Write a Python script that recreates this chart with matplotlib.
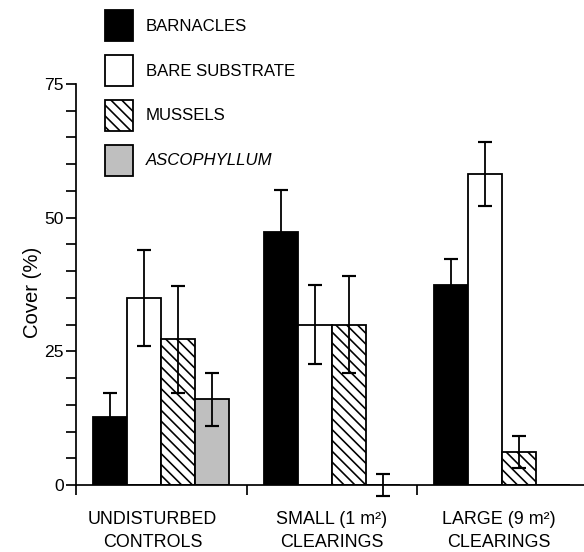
import numpy as np
import matplotlib
matplotlib.use("Agg")
import matplotlib.pyplot as plt
from matplotlib.patches import Patch
from matplotlib.ticker import MultipleLocator, FixedLocator

# ---- data ----
groups = ["UNDISTURBED\nCONTROLS", "SMALL (1 m\u00b2)\nCLEARINGS", "LARGE (9 m\u00b2)\nCLEARINGS"]
series = ["BARNACLES", "BARE SUBSTRATE", "MUSSELS", "ASCOPHYLLUM"]
barnacles = [12.7, 47.3, 37.4]
barnacles_err = [4.5, 7.8, 4.9]
bare = [35.0, 30.0, 58.1]
bare_err = [9.0, 7.4, 6.0]
mussels = [27.3, 30.0, 6.1]
mussels_err = [10.0, 9.0, 3.0]
ascophyllum = [16.0, 0.0, 0.0]
ascophyllum_err = [5.0, 2.0, np.nan]
yticks_major = [0, 25, 50, 75]

values = [barnacles, bare, mussels, ascophyllum]
errors = [barnacles_err, bare_err, mussels_err, ascophyllum_err]

DPI = 130
W, H = 584, 552
plt.rcParams['font.family'] = ['Liberation Sans', 'DejaVu Sans']
plt.rcParams['hatch.linewidth'] = 0.9
FS = 9.3

fig = plt.figure(figsize=(W / DPI, H / DPI), dpi=DPI)
ax_left, ax_right, ax_bottom, ax_top = 76, 584, 485, 84
ax = fig.add_axes([ax_left / W, (H - ax_bottom) / H, (ax_right - ax_left) / W, (ax_bottom - ax_top) / H])

HATCH = '\\\\\\\\'
styles = [
    dict(facecolor='black', edgecolor='black', hatch=None),
    dict(facecolor='white', edgecolor='black', hatch=None),
    dict(facecolor='white', edgecolor='black', hatch=HATCH),
    dict(facecolor='#bfbfbf', edgecolor='black', hatch=None),
]

bw = 0.2
x = np.arange(len(groups))
lw = 1.0
for i, (vals, errs, st) in enumerate(zip(values, errors, styles)):
    centers = x + 0.2 + i * bw
    ax.bar(centers, vals, width=bw, color=st['facecolor'], edgecolor=st['edgecolor'],
           hatch=st['hatch'], linewidth=lw, zorder=2)
    ax.errorbar(centers, vals, yerr=errs, fmt='none', ecolor='black', elinewidth=1.0,
                capsize=3.8, capthick=1.2, zorder=3, clip_on=False)

ax.set_xlim(0, (ax_right - ax_left) / 170.5)
ax.set_ylim(0, 75)
ax.spines['top'].set_visible(False)
ax.spines['right'].set_visible(False)
for s in ['left', 'bottom']:
    ax.spines[s].set_linewidth(0.95)

ax.yaxis.set_major_locator(FixedLocator(yticks_major))
ax.yaxis.set_minor_locator(MultipleLocator(5))
ax.tick_params(axis='y', which='both', direction='out', length=5.5, width=0.95,
               labelsize=FS + 0.4, pad=1.2)
ax.xaxis.set_major_locator(FixedLocator(list(x)))
ax.tick_params(axis='x', which='major', direction='out', length=5.5, width=0.95,
               labelbottom=False)

label_pos = [0.45, 1.5, 2.48]
for gx, g in zip(label_pos, groups):
    ax.text(gx, -0.064, g, transform=ax.get_xaxis_transform(), ha='center', va='top',
            fontsize=FS + 0.6, linespacing=1.5)

fig.text(33 / W, (H - 292) / H, "Cover (%)", rotation=90, ha='center', va='center',
         fontsize=FS + 1.9)

handles = [Patch(facecolor=st['facecolor'], edgecolor='black', hatch=st['hatch'], linewidth=lw)
           for st in styles]
leg = fig.legend(handles, series, loc='upper left', bbox_to_anchor=(105 / W, 1 - 10 / H),
                 frameon=False, fontsize=FS, borderpad=0, borderaxespad=0,
                 handlelength=1.67, handleheight=2.46, labelspacing=0.83, handletextpad=0.75)
leg.get_texts()[3].set_fontstyle('italic')

fig.savefig("out.png", dpi=DPI)
